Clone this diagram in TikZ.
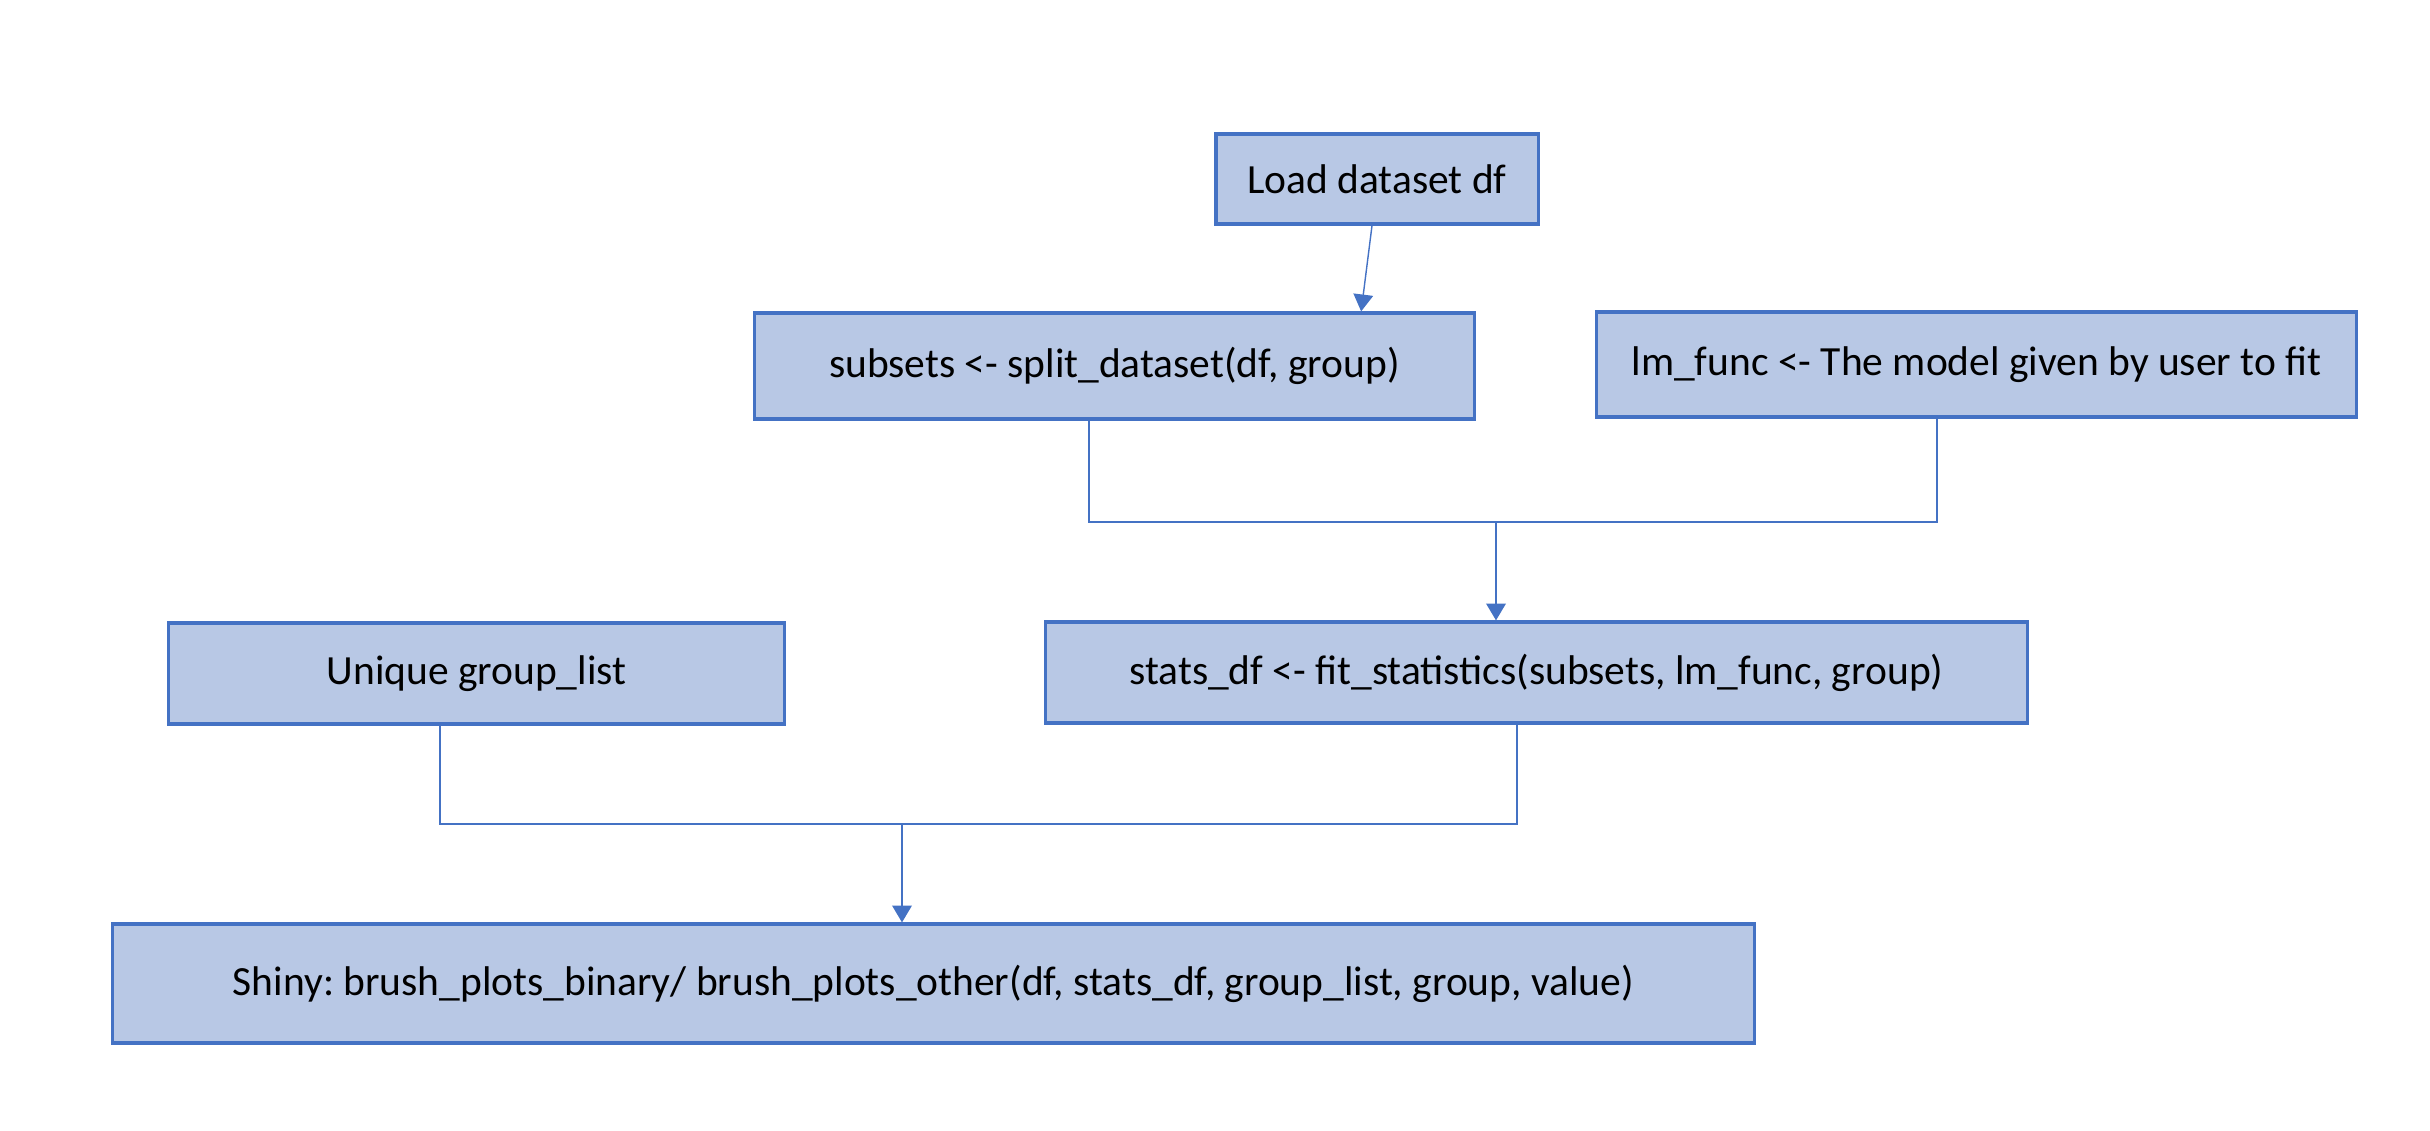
\documentclass[tikz,border=0pt]{standalone}
\usepackage{fontspec}
\setmainfont{Carlito}
\usepackage{xcolor}
\usepackage{tikz}
\usetikzlibrary{shapes,arrows.meta}
\frenchspacing
\definecolor{boxblue}{HTML}{4472C4}
\definecolor{boxfill}{HTML}{B8C8E5}
\tikzstyle{block} = [rectangle, draw=boxblue, line width=0.9pt, fill=boxfill, text centered, inner sep=0pt, font=\fontsize{11.8}{14}\selectfont]
\tikzstyle{wire} = [draw=boxblue, line width=0.4pt]
\tikzstyle{line} = [draw=boxblue, line width=0.4pt, -{Triangle[width=5.6pt,length=4.8pt]}]

\begin{document}
\begin{tikzpicture}[x=0.01cm, y=-0.01cm]
\useasboundingbox (0,0) rectangle (2430,1130);
\node [block, minimum width=3.22cm, minimum height=0.90cm] (load) at (1377,179) {Load dataset df};
\node [block, minimum width=7.19cm, minimum height=1.06cm] (subsets) at (1114.5,366) {subsets <- split\_dataset(df, group)};
\node [block, minimum width=7.59cm, minimum height=1.05cm] (lm-func) at (1976.5,364.5) {lm\_func <- The model given by user to fit};
\path [line] ([xshift=-0.05cm]load.south) -- ([xshift=2.465cm]subsets.north);

\node [block, minimum width=6.15cm, minimum height=1.01cm] (unique) at (476.5,673.5) {Unique group\_list};
\node [block, minimum width=9.81cm, minimum height=1.01cm] (stats) at (1536.5,672.5) {stats\_df <- fit\_statistics(subsets, lm\_func, group)};
\coordinate (join-fit) at (1496,522);
\path [wire] ([xshift=-0.255cm]subsets.south) |- (join-fit);
\path [wire] ([xshift=-0.395cm]lm-func.south) |- (join-fit);
\path [line] (join-fit) -- (join-fit |- stats.north);

\node [block, minimum width=16.41cm, minimum height=1.19cm] (shiny) at (933.5,983.5) {Shiny: brush\_plots\_binary/ brush\_plots\_other(df, stats\_df, group\_list, group, value)};
\coordinate (join-shiny) at (902,824);
\path [wire] ([xshift=-0.365cm]unique.south) |- (join-shiny);
\path [wire] ([xshift=-0.195cm]stats.south) |- (join-shiny);
\path [line] (join-shiny) -- (join-shiny |- shiny.north);
\end{tikzpicture}
\end{document}
